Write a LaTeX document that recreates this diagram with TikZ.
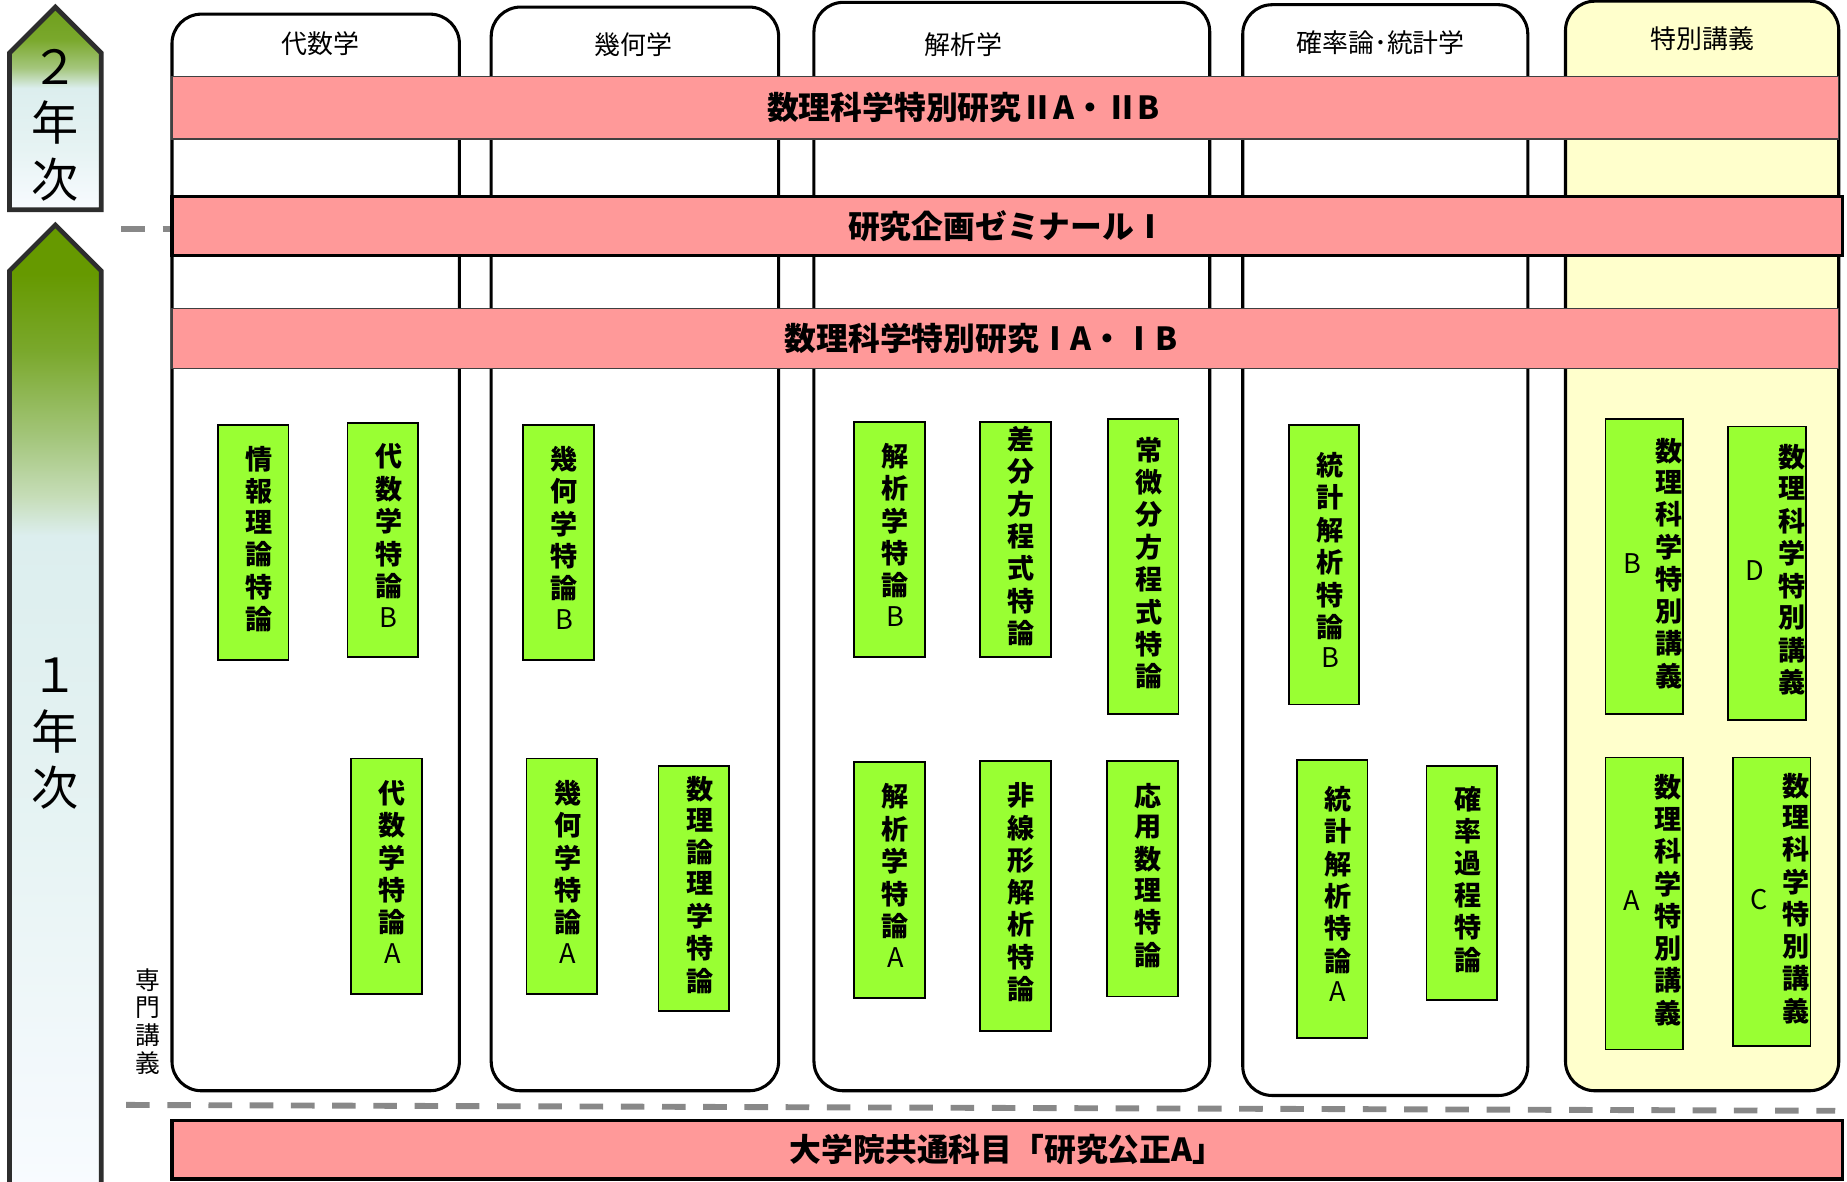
\documentclass[tikz,border=0pt]{standalone}
\usepackage{fontspec}
\setmainfont{Noto Sans CJK JP}
\usetikzlibrary{positioning,calc}
\definecolor{barpink}{HTML}{FF9999}
\definecolor{barline}{HTML}{404040}
\definecolor{coursegreen}{HTML}{99FF33}
\definecolor{specyellow}{HTML}{FFFFCC}
\definecolor{dashgray}{HTML}{888888}
\definecolor{arrowgray}{HTML}{2D2D2D}
\definecolor{yrgreenA}{HTML}{669900}
\definecolor{yrgreenB}{HTML}{7AA82C}
\definecolor{yrgreenC}{HTML}{A4C67C}
\definecolor{yrpale}{HTML}{C6DDB8}
\definecolor{yrcyan}{HTML}{DCEEEE}
\definecolor{yrcyanB}{HTML}{E6F3F3}
\definecolor{yrwhite}{HTML}{F8FBFF}
\definecolor{yrtop}{HTML}{6E9F1C}
\pgfdeclareverticalshading{yrtwo}{100bp}{color(0bp)=(yrwhite); color(25bp)=(yrwhite); color(40bp)=(yrcyanB); color(55bp)=(yrcyan); color(60bp)=(yrgreenC); color(67bp)=(yrgreenB); color(75bp)=(yrtop); color(100bp)=(yrtop)}
\pgfdeclareverticalshading{yrone}{100bp}{color(0bp)=(yrwhite); color(25.5bp)=(yrwhite); color(44bp)=(yrcyanB); color(59bp)=(yrcyan); color(61bp)=(yrpale); color(64bp)=(yrgreenC); color(68.5bp)=(yrgreenB); color(72.5bp)=(yrgreenA); color(100bp)=(yrgreenA)}
\tikzset{
    fieldbox/.style = {draw, fill=white, rounded corners=25pt, line width=2.6pt},
    colhead/.style = {font=\fontsize{22}{26}\selectfont},
    studybar/.style = {draw=barline, fill=barpink, line width=1.2pt,
        font=\bfseries\fontsize{27}{30}\selectfont},
    thickbar/.style = {studybar, draw=black, line width=3pt},
    course/.style = {draw, fill=coursegreen, line width=1.5pt, inner sep=0pt,
        minimum width=60pt, font=\bfseries\fontsize{23}{26}\selectfont},
    yeararrow/.style = {draw=arrowgray, line width=4pt},
    yeartext/.style = {align=center, font=\fontsize{40}{48}\selectfont},
    yearline/.style = {draw=dashgray, line width=5pt, dash pattern=on 20pt off 15pt}
}
\newcommand{\tate}[1]{\begin{tabular}{@{\hspace{10pt}}c@{}}#1\end{tabular}}
\newcommand{\tokukou}[1]{\hspace*{14pt}{\mdseries #1}\hspace{12pt}%
    \begin{tabular}{@{}c@{}}数\\理\\科\\学\\特\\別\\講\\義\end{tabular}}

\begin{document}
\begin{tikzpicture}[x=1pt,y=-1pt]
    \useasboundingbox (0,0) rectangle (1568,1003);
    % year arrows
    \shadedraw[shading=yrtwo, yeararrow] (8,45) -- (47,6) -- (86,45) -- (86,178) -- (8,178) -- cycle;
    \node[yeartext] (yr2) at (47,106) {２\\年\\次};
    \shadedraw[shading=yrone, yeararrow] (8,230) -- (47,191) -- (86,230) -- (86,1015) -- (8,1015) -- cycle;
    \node[yeartext] (yr1) at (47,623) {１\\年\\次};
    % fields
    \node[fieldbox, minimum width=244pt, minimum height=914pt] (alg) at (268,469) {};
    \node[fieldbox, minimum width=244pt, minimum height=920pt] (geo) at (539,466) {};
    \node[fieldbox, minimum width=336pt, minimum height=924pt] (ana) at (859,464) {};
    \node[fieldbox, minimum width=242pt, minimum height=926pt] (prob) at (1176,467) {};
    \node[fieldbox, fill=specyellow, minimum width=232pt, minimum height=925pt] (spec) at (1445,463.5) {};
    \node[colhead] (alghead) at (272,37) {代数学};
    \node[colhead] (geohead) at (538,38) {幾何学};
    \node[colhead] (anahead) at (818,38) {解析学};
    \node[colhead] (probhead) at (1172,36) {確率論･統計学};
    \node[colhead] (spechead) at (1445,33) {特別講義};
    % year borders
    \coordinate (split2) at (103,194.5);
    \draw[yearline] (split2) -- (split2 -| alg.west);
    \coordinate (split1a) at (107,938);
    \coordinate (split1b) at (1558,943);
    \draw[yearline] (split1a) -- (split1b);
    % common courses
    \node[studybar, minimum width=1415pt, minimum height=53pt] (res2) at (853.5,91.5) {数理科学特別研究ⅡA・ⅡB\hspace*{71pt}};
    \node[thickbar, minimum width=1418pt, minimum height=50pt] (seminar) at (855,192) {研究企画ゼミナールⅠ};
    \node[studybar, minimum width=1415pt, minimum height=51pt] (res1) at (853.5,287.5) {数理科学特別研究ⅠA・ⅠB\hspace*{41pt}};
    \node[thickbar, line width=2.8pt, minimum width=1418pt, minimum height=50pt] (ethics) at (855,976) {大学院共通科目「研究公正A」};
    \node[align=center, font=\fontsize{21}{23.5}\selectfont] (senmon) at (125.5,867) {専\\門\\講\\義};
    % algebra
    \node[course, minimum height=199pt] (jyoho) at (215,460.5) {\tate{情\\報\\理\\論\\特\\論}};
    \node[course, minimum height=199pt] (algB) at (325,458.5) {\tate{代\\数\\学\\特\\論\\{\mdseries B}}};
    \node[course, minimum height=200pt] (algA) at (328,744) {\tate{代\\数\\学\\特\\論\\{\mdseries A}}};
    % geometry
    \node[course, minimum height=199pt] (geoB) at (474,460.5) {\tate{幾\\何\\学\\特\\論\\{\mdseries B}}};
    \node[course, minimum height=200pt] (geoA) at (477,744) {\tate{幾\\何\\学\\特\\論\\{\mdseries A}}};
    \node[course, minimum height=208pt] (logic) at (589,754) {\tate{数\\理\\論\\理\\学\\特\\論}};
    % analysis
    \node[course, minimum height=200pt] (anaB) at (755,458) {\tate{解\\析\\学\\特\\論\\{\mdseries B}}};
    \node[course, minimum height=200pt] (diffeq) at (862,458) {\tate{差\\分\\方\\程\\式\\特\\論}};
    \node[course, minimum height=250pt] (ode) at (970.5,481) {\tate{常\\微\\分\\方\\程\\式\\特\\論}};
    \node[course, minimum height=200pt] (anaA) at (755,747) {\tate{解\\析\\学\\特\\論\\{\mdseries A}}};
    \node[course, minimum height=229pt] (nonlin) at (862,760.5) {\tate{非\\線\\形\\解\\析\\特\\論}};
    \node[course, minimum height=200pt] (applied) at (970,746) {\tate{応\\用\\数\\理\\特\\論}};
    % probability and statistics
    \node[course, minimum height=237pt] (statB) at (1124,479.5) {\tate{統\\計\\解\\析\\特\\論\\{\mdseries B}}};
    \node[course, minimum height=236pt] (statA) at (1131,763) {\tate{統\\計\\解\\析\\特\\論\\{\mdseries A}}};
    \node[course, minimum height=199pt] (stoch) at (1241,749.5) {\tate{確\\率\\過\\程\\特\\論}};
    % special lectures
    \node[course, minimum width=66pt, minimum height=250pt] (specB) at (1396,481) {\tokukou{B}};
    \node[course, minimum width=66pt, minimum height=249pt] (specD) at (1500,486.5) {\tokukou{D}};
    \node[course, minimum width=66pt, minimum height=248pt] (specA) at (1396,767) {\tokukou{A}};
    \node[course, minimum width=66pt, minimum height=245pt] (specC) at (1504,765.5) {\tokukou{C}};
\end{tikzpicture}
\end{document}
